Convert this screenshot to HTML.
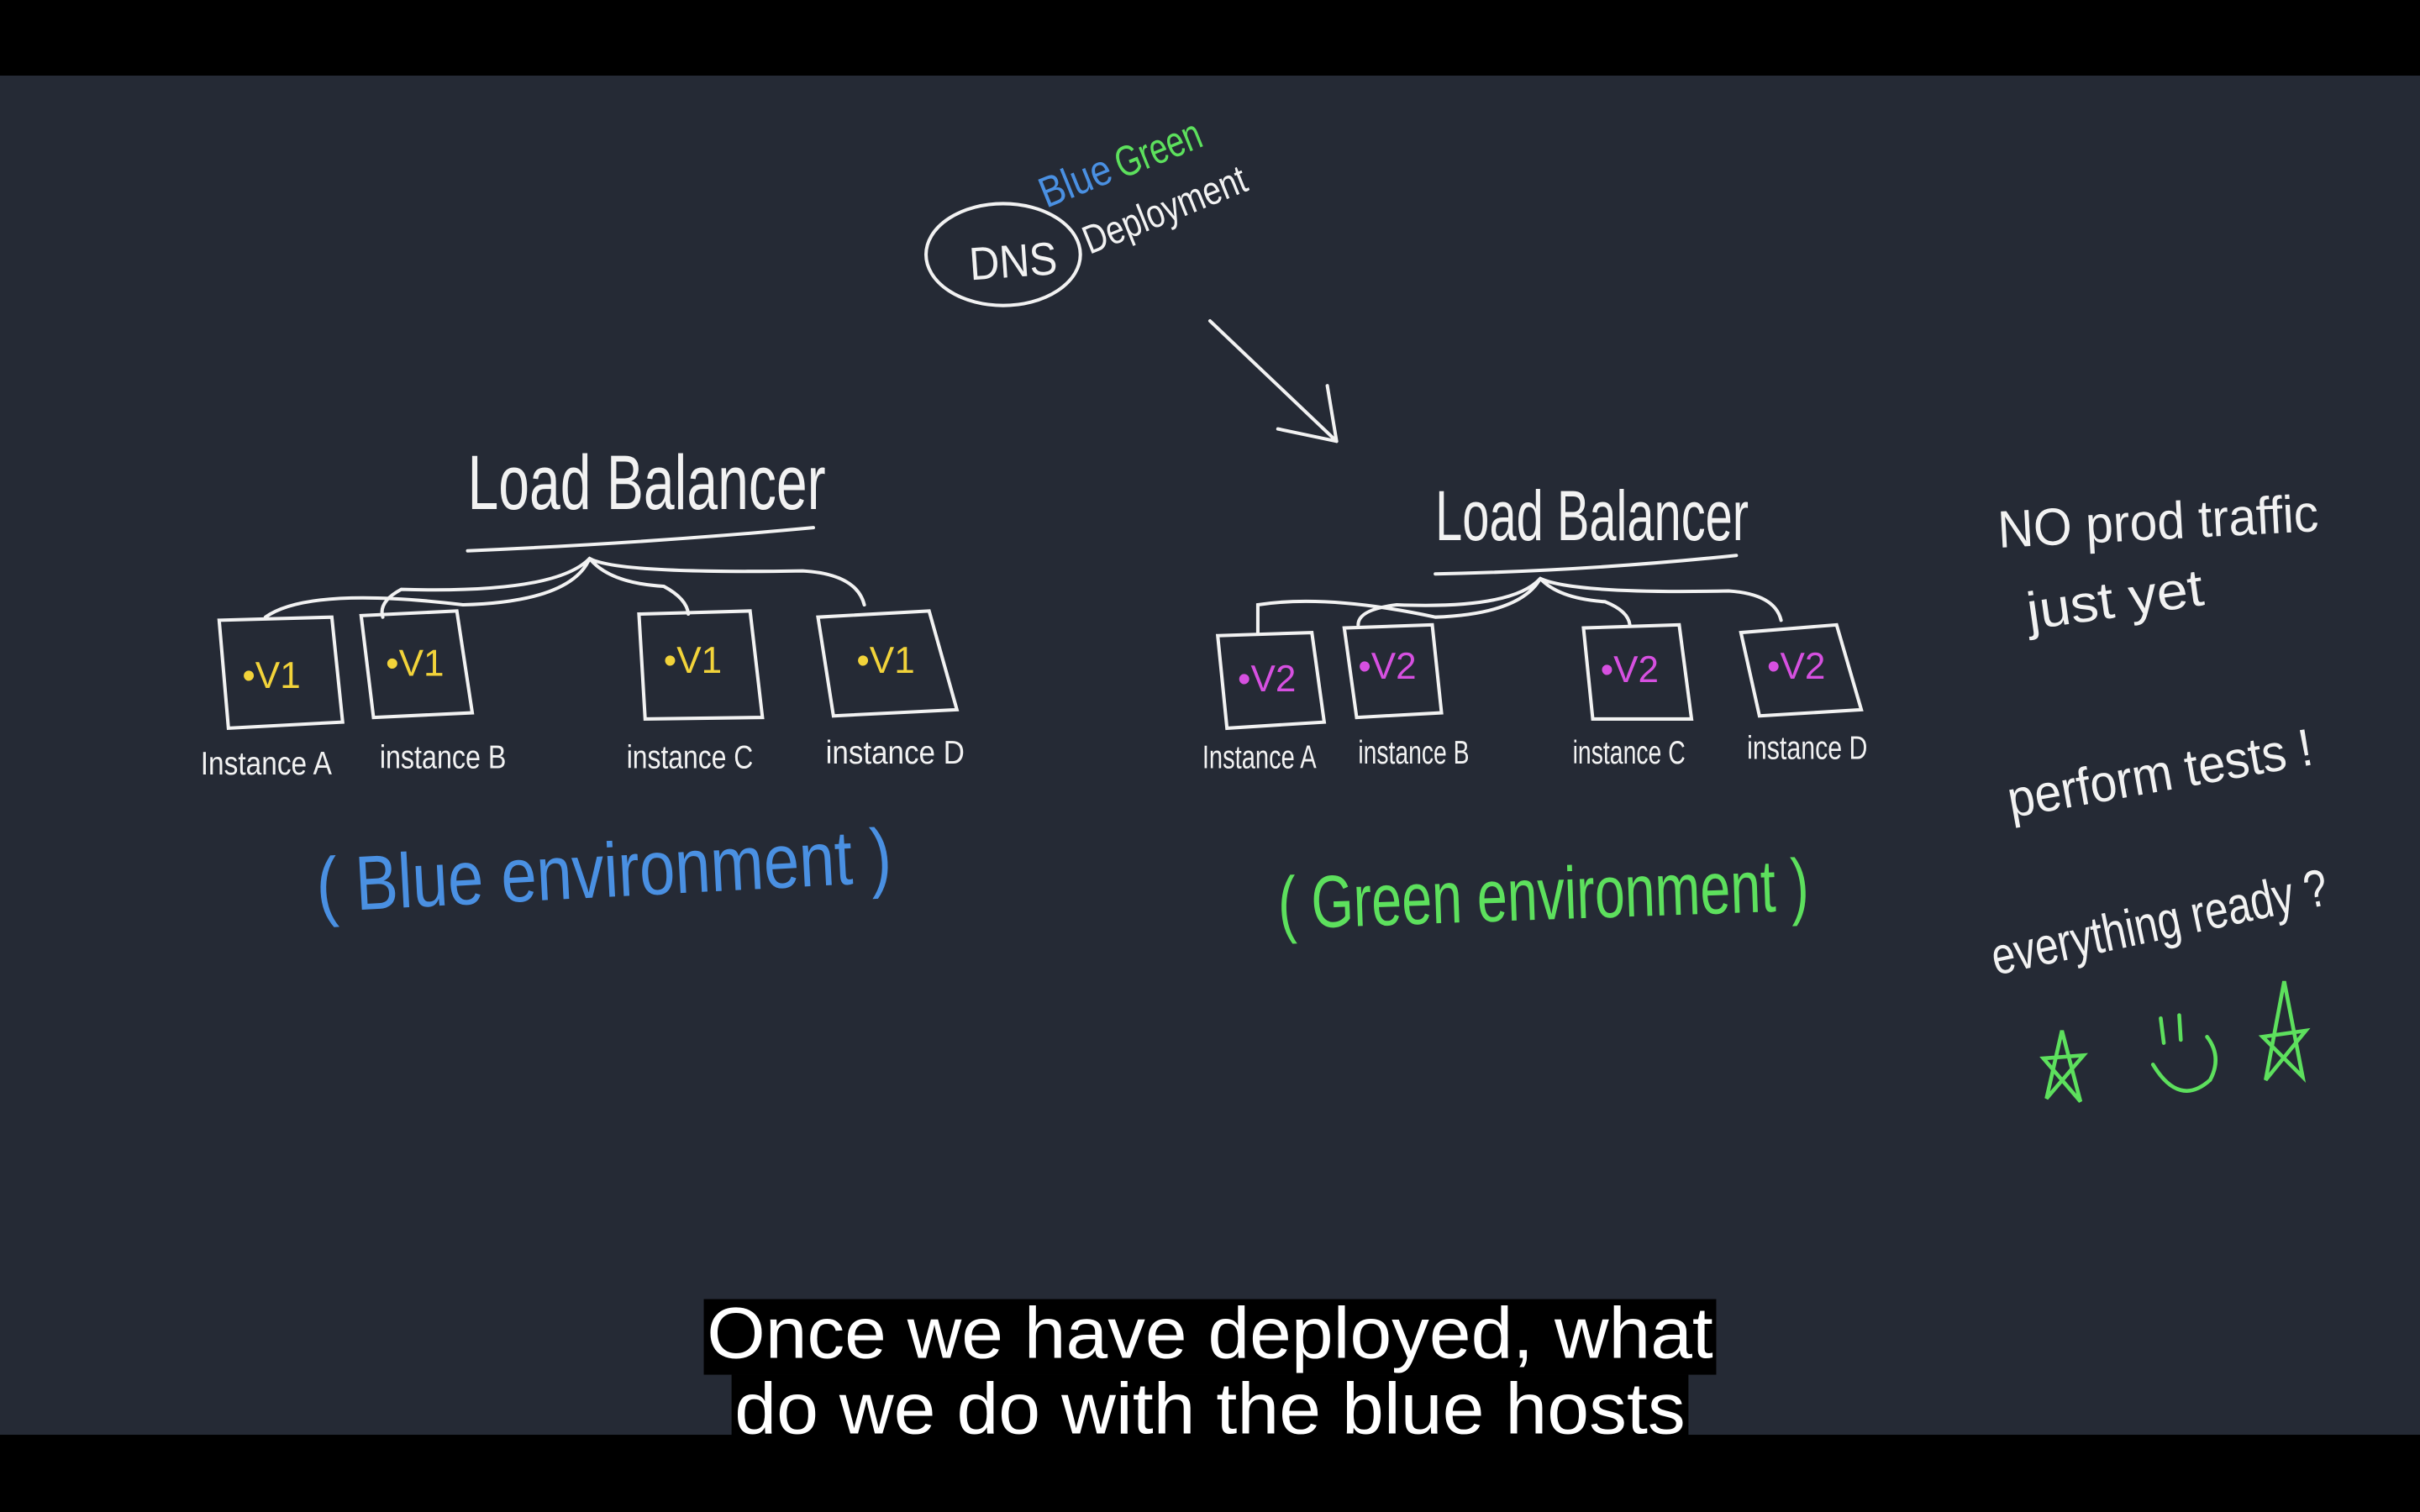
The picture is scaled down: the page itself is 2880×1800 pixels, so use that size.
<!DOCTYPE html>
<html><head><meta charset="utf-8"><style>
html,body{margin:0;padding:0;background:#000;}
svg{display:block;}
text{font-family:"Liberation Sans",sans-serif;}
</style></head><body>
<svg width="2880" height="1800" viewBox="0 0 1568 980" xmlns="http://www.w3.org/2000/svg">
<rect x="0" y="0" width="1568" height="980" fill="#000"/>
<rect x="0" y="49" width="1568" height="881" fill="#252a35"/>
<g fill="none" stroke="#f2f2f2" stroke-width="2.2" stroke-linecap="round">
<ellipse cx="650" cy="165" rx="50" ry="33"/>
<path d="M784 208 L866 286 M866 286 L828 278 M866 286 L860 250"/>
<path d="M303 357 Q420 352 527 342"/>
<path d="M382 362 Q370 390 300 392 Q200 380 172 400 M382 362 Q360 385 260 382 Q245 390 248 400 M382 362 Q395 378 430 380 Q445 388 446 398 M382 362 Q400 372 520 370 Q555 372 560 392"/>
<path d="M142 402 L215 400 L222 468 L148 472 Z M234 399 L296 396 L306 462 L242 465 Z M414 398 L486 396 L494 465 L418 466 Z M530 400 L602 396 L620 460 L540 464 Z"/>
<path d="M930 372 Q1030 370 1125 360"/>
<path d="M998 375 Q985 398 930 400 Q860 385 815 392 Q815 400 815 410 M998 375 Q980 395 905 392 Q880 395 880 405 M998 375 Q1010 388 1040 390 Q1055 396 1056 405 M998 375 Q1020 385 1120 383 Q1150 385 1154 402"/>
<path d="M789 412 L850 410 L858 468 L795 472 Z M871 407 L928 405 L934 462 L879 465 Z M1026 407 L1088 405 L1096 466 L1032 466 Z M1128 410 L1190 405 L1206 460 L1140 464 Z"/>
</g>
<g fill="#f2f2f2">
<text x="628" y="180" font-size="30" textLength="57" lengthAdjust="spacingAndGlyphs" transform="rotate(-4 650 170)">DNS</text>
<text x="706" y="165" font-size="26" textLength="112" lengthAdjust="spacingAndGlyphs" transform="rotate(-22 706 165)">Deployment</text>
<text x="303" y="330" font-size="50" textLength="232" lengthAdjust="spacingAndGlyphs">Load  Balancer</text>
<text x="930" y="350" font-size="46" textLength="203" lengthAdjust="spacingAndGlyphs">Load  Balancer</text>
<g font-size="21">
<text x="130" y="502" textLength="85" lengthAdjust="spacingAndGlyphs">Instance A</text>
<text x="246" y="498" textLength="82" lengthAdjust="spacingAndGlyphs">instance B</text>
<text x="406" y="498" textLength="82" lengthAdjust="spacingAndGlyphs">instance C</text>
<text x="535" y="495" textLength="90" lengthAdjust="spacingAndGlyphs">instance D</text>
<text x="779" y="498" textLength="74" lengthAdjust="spacingAndGlyphs">Instance A</text>
<text x="880" y="495" textLength="72" lengthAdjust="spacingAndGlyphs">instance B</text>
<text x="1019" y="495" textLength="73" lengthAdjust="spacingAndGlyphs">instance C</text>
<text x="1132" y="492" textLength="78" lengthAdjust="spacingAndGlyphs">instance D</text>
</g>
<g font-size="34">
<text x="1295" y="355" textLength="208" lengthAdjust="spacingAndGlyphs" transform="rotate(-3 1295 355)">NO  prod  traffic</text>
<text x="1315" y="408" textLength="115" lengthAdjust="spacingAndGlyphs" transform="rotate(-8 1315 408)">just  yet</text>
<text x="1303" y="530" textLength="200" lengthAdjust="spacingAndGlyphs" transform="rotate(-10 1303 530)">perform  tests !</text>
<text x="1293" y="632" textLength="222" lengthAdjust="spacingAndGlyphs" transform="rotate(-12 1293 632)">everything  ready ?</text>
</g>
</g>
<text x="678" y="135" font-size="28" fill="#4a90e2" textLength="48" lengthAdjust="spacingAndGlyphs" transform="rotate(-22 678 135)">Blue</text>
<text x="727" y="116" font-size="28" fill="#5de05d" textLength="58" lengthAdjust="spacingAndGlyphs" transform="rotate(-22 727 116)">Green</text>
<g fill="#f2d33a" font-size="24"><text x="157" y="446">•V1</text><text x="250" y="438">•V1</text><text x="430" y="436">•V1</text><text x="555" y="436">•V1</text></g>
<g fill="#d650e0" font-size="24"><text x="802" y="448">•V2</text><text x="880" y="440">•V2</text><text x="1037" y="442">•V2</text><text x="1145" y="440">•V2</text></g>
<text x="205" y="582" font-size="50" fill="#4a90e2" textLength="373" lengthAdjust="spacingAndGlyphs" transform="rotate(-3 380 570)">( Blue  environment )</text>
<text x="828" y="596" font-size="48" fill="#5de05d" textLength="344" lengthAdjust="spacingAndGlyphs" transform="rotate(-2 1000 580)">( Green  environment )</text>
<g fill="none" stroke="#5de05d" stroke-width="2.5" stroke-linecap="round">
<path d="M1336 668 L1326 712 L1350 684 L1324 686 L1348 714 Z"/>
<path d="M1480 636 L1468 700 L1494 668 L1466 672 L1492 698 Z"/>
<path d="M1395 690 Q1412 718 1432 700 Q1440 685 1430 672"/>
<path d="M1400 660 L1402 676 M1412 658 L1413 674"/>
</g>
<rect x="456" y="842" width="656" height="49" fill="#000"/>
<rect x="474" y="891" width="620" height="40" fill="#000"/>
<g fill="#fff" font-size="47" text-anchor="middle">
<text x="784" y="880" textLength="652" lengthAdjust="spacingAndGlyphs">Once we have deployed, what</text>
<text x="784" y="929" textLength="616" lengthAdjust="spacingAndGlyphs">do we do with the blue hosts</text>
</g>
<rect x="0" y="930" width="1568" height="50" fill="#000"/>
</svg>
</body></html>
